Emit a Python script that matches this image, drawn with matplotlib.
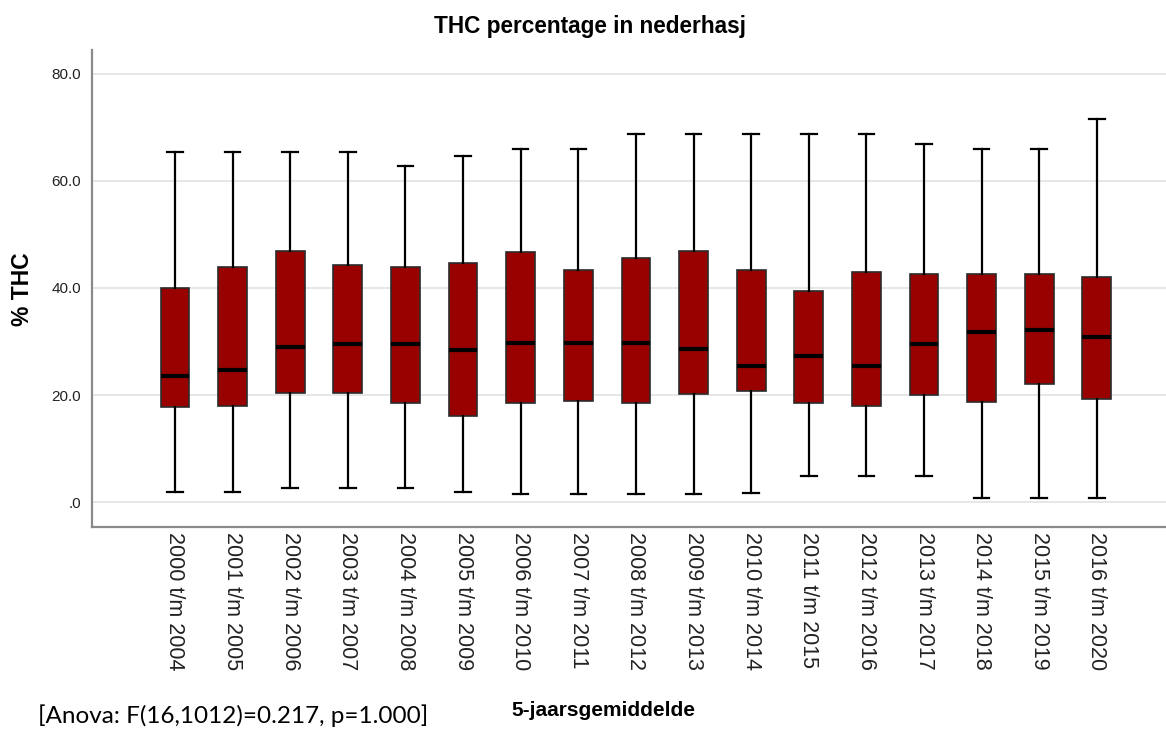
import matplotlib.pyplot as plt

# 5-jaarsgemiddelden, waarden
periods = ["2000 t/m 2004", "2001 t/m 2005", "2002 t/m 2006", "2003 t/m 2007",
           "2004 t/m 2008", "2005 t/m 2009", "2006 t/m 2010", "2007 t/m 2011",
           "2008 t/m 2012", "2009 t/m 2013", "2010 t/m 2014", "2011 t/m 2015",
           "2012 t/m 2016", "2013 t/m 2017", "2014 t/m 2018", "2015 t/m 2019",
           "2016 t/m 2020"]
whisker_low = [1.9, 1.9, 2.6, 2.6, 2.6, 1.9, 1.6, 1.6, 1.6, 1.6, 1.7, 4.9, 4.9, 4.9, 0.9, 0.9, 0.9]
q1 = [17.7, 18.0, 20.4, 20.4, 18.6, 16.2, 18.6, 18.9, 18.5, 20.3, 20.8, 18.5, 18.0, 20.0, 18.7, 22.0, 19.3]
median = [23.6, 24.6, 29.0, 29.5, 29.5, 28.4, 29.7, 29.7, 29.8, 28.7, 25.4, 27.3, 25.5, 29.5, 31.7, 32.2, 30.9]
q3 = [39.9, 43.9, 46.9, 44.3, 43.9, 44.6, 46.7, 43.4, 45.5, 46.9, 43.4, 39.4, 43.0, 42.6, 42.6, 42.6, 42.1]
whisker_high = [65.4, 65.4, 65.4, 65.4, 62.7, 64.7, 66.0, 66.0, 68.7, 68.7, 68.7, 68.7, 68.7, 66.9, 66.0, 66.0, 71.5]

y_ticks = [0, 20, 40, 60, 80]
y_ticklabels = [".0", "20.0", "40.0", "60.0", "80.0"]

stats = []
for i in range(len(periods)):
    stats.append({"whislo": whisker_low[i], "q1": q1[i], "med": median[i],
                  "q3": q3[i], "whishi": whisker_high[i], "fliers": []})

plt.rcParams['font.family'] = ['Liberation Sans', 'DejaVu Sans']

fig = plt.figure(figsize=(11.66, 7.33), dpi=100)
ax = fig.add_axes([0.0789, 0.2814, 0.9211, 0.6504])

ax.bxp(stats, positions=range(len(periods)), widths=0.5, capwidths=0.27,
       patch_artist=True, showfliers=False,
       boxprops=dict(facecolor='#990000', edgecolor='#2b2b2b', linewidth=1.2),
       medianprops=dict(color='black', linewidth=3),
       whiskerprops=dict(color='black', linewidth=1.6),
       capprops=dict(color='black', linewidth=1.6))

ax.set_xlim(-1.44, 17.2)
ax.set_ylim(-4.55, 84.4)
ax.set_yticks(y_ticks)
ax.set_yticklabels(y_ticklabels, fontsize=11, color='#222222')
ax.set_xticks(range(len(periods)))
ax.set_xticklabels(periods, rotation=270, fontsize=15.5, color='#222222',
                   ha='center', va='top')
ax.tick_params(axis='both', length=0)
ax.tick_params(axis='y', pad=8)
ax.tick_params(axis='x', pad=4)

ax.grid(axis='y', color='#e3e3e3', linewidth=1.2)
ax.set_axisbelow(True)
for side in ['top', 'right']:
    ax.spines[side].set_visible(False)
for side in ['left', 'bottom']:
    ax.spines[side].set_color('#8a8a8a')
    ax.spines[side].set_linewidth(1.6)

fig.text(590 / 1166, 1 - 27 / 733, "THC percentage in nederhasj", fontsize=16.3,
         fontweight='bold', ha='center', va='center')
fig.text(22.5 / 1166, 1 - 289 / 733, "% THC", fontsize=16.5, fontweight='bold',
         rotation=90, ha='center', va='center')
fig.text(603 / 1166, 1 - 711 / 733, "5-jaarsgemiddelde", fontsize=15,
         fontweight='bold', ha='center', va='center')
fig.text(38 / 1166, 1 - 716 / 733, "[Anova: F(16,1012)=0.217, p=1.000]",
         fontsize=17.5, family=['Lato', 'DejaVu Sans'], ha='left', va='center')

fig.savefig("out.png", dpi=100)
